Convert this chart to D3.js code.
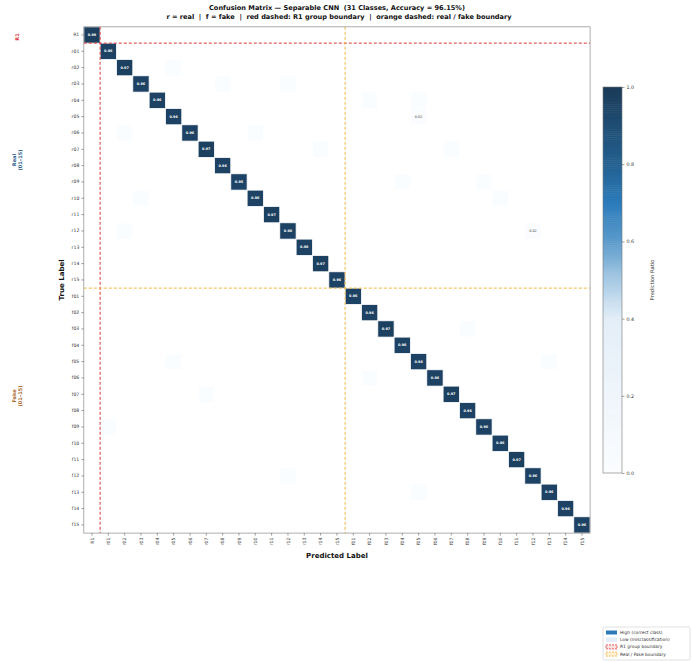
<!DOCTYPE html>
<html>
<head>
<meta charset="utf-8">
<script src="https://cdn.jsdelivr.net/npm/d3@7"></script>
<style>
body{margin:0;background:#fff;}
text{font-family:"DejaVu Sans",sans-serif;white-space:pre;}
</style>
</head>
<body>
<svg id="chart" width="692" height="662"></svg>
<script>
// ---- data ----
const labels = ["R1","r01","r02","r03","r04","r05","r06","r07","r08","r09","r10","r11","r12","r13","r14","r15",
                "f01","f02","f03","f04","f05","f06","f07","f08","f09","f10","f11","f12","f13","f14","f15"];
const diagValues = [0.98,0.96,0.97,0.96,0.96,0.96,0.96,0.97,0.96,0.95,0.96,0.97,0.96,0.96,0.97,0.96,
                    0.96,0.96,0.97,0.96,0.96,0.96,0.97,0.96,0.96,0.96,0.97,0.96,0.96,0.96,0.96];
// off-diagonal entries: [true row, predicted col, ratio]
const offDiag = [
  [5,20,0.02],[12,27,0.02],[4,20,0.01],[7,22,0.01],[9,19,0.01],[9,24,0.01],[10,25,0.01],
  [6,2,0.01],[10,3,0.01],[2,5,0.01],[3,8,0.01],[3,12,0.01],[6,10,0.01],[7,14,0.01],
  [24,1,0.01],[22,7,0.01],[27,12,0.01],[20,5,0.01],[21,17,0.01],[18,23,0.01],[20,28,0.01],
  [28,20,0.01],[4,17,0.01],[12,2,0.01]
];
const cbTicks = [0.0,0.2,0.4,0.6,0.8,1.0];
const legendItems = ["High (correct class)","Low (misclassification)","R1 group boundary","Real / Fake boundary"];

// ---- layout ----
const svg = d3.select("#chart");
const L = 83.8, R = 590.1, T = 26.8, B = 533.1;
const x = d3.scaleBand().domain(labels).range([L,R]);
const y = d3.scaleBand().domain(labels).range([T,B]);

const color = d3.scaleLinear()
  .domain([0,0.2,0.4,0.5,0.6,0.7,0.8,1.0])
  .range(["#fbfdff","#eff5fb","#e3eef8","#a8cae4","#5c9bcb","#2b7bba","#236090","#1b3b58"])
  .clamp(true);

// cells
const cells = [];
labels.forEach((l,i)=>cells.push({r:i,c:i,v:diagValues[i]}));
offDiag.forEach(d=>cells.push({r:d[0],c:d[1],v:d[2]}));

svg.append("rect").attr("x",L).attr("y",T).attr("width",R-L).attr("height",B-T).attr("fill","#fff");

const g = svg.append("g");
g.selectAll("rect.cell").data(cells).enter().append("rect")
  .attr("class","cell")
  .attr("x",d=>x(labels[d.c])).attr("y",d=>y(labels[d.r]))
  .attr("width",x.bandwidth()).attr("height",y.bandwidth())
  .attr("fill",d=>color(d.v))
  .attr("stroke","#fff").attr("stroke-width",0.8);

g.selectAll("text.val").data(cells.filter(d=>d.v>=0.02)).enter().append("text")
  .attr("x",d=>x(labels[d.c])+x.bandwidth()/2)
  .attr("y",d=>y(labels[d.r])+y.bandwidth()/2)
  .attr("dy","0.35em").attr("text-anchor","middle")
  .attr("font-size",3.4).attr("font-weight",d=>d.v>0.5?"bold":"normal")
  .attr("fill",d=>d.v>0.5?"#fff":"#333")
  .text(d=>d.v.toFixed(2));

// boundaries
const rB = x("r01"), fB = x("f01");
svg.append("line").attr("x1",L).attr("x2",R).attr("y1",y("r01")).attr("y2",y("r01"))
  .attr("stroke","#e0373a").attr("stroke-width",1).attr("stroke-dasharray","3,2");
svg.append("line").attr("x1",rB).attr("x2",rB).attr("y1",T).attr("y2",B)
  .attr("stroke","#e0373a").attr("stroke-width",1).attr("stroke-dasharray","3,2");
svg.append("line").attr("x1",L).attr("x2",R).attr("y1",y("f01")).attr("y2",y("f01"))
  .attr("stroke","#f4b63f").attr("stroke-width",1).attr("stroke-dasharray","3,2");
svg.append("line").attr("x1",fB).attr("x2",fB).attr("y1",T).attr("y2",B)
  .attr("stroke","#f4b63f").attr("stroke-width",1).attr("stroke-dasharray","3,2");

// frame
svg.append("rect").attr("x",L).attr("y",T).attr("width",R-L).attr("height",B-T)
  .attr("fill","none").attr("stroke","#999").attr("stroke-width",0.8);

// axes
const ay = svg.append("g").attr("transform",`translate(${L},0)`)
  .call(d3.axisLeft(y).tickSize(2.5).tickPadding(2));
ay.select(".domain").remove();
ay.selectAll("text").attr("font-size",4.6).attr("fill","#333").attr("font-family","DejaVu Sans");
ay.selectAll("line").attr("stroke","#444").attr("stroke-width",0.5);

const ax = svg.append("g").attr("transform",`translate(0,${B})`)
  .call(d3.axisBottom(x).tickSize(2.5).tickPadding(2));
ax.select(".domain").remove();
ax.selectAll("text").attr("font-size",4.6).attr("fill","#333").attr("font-family","DejaVu Sans")
  .attr("transform","rotate(-90)").attr("text-anchor","end").attr("x",-4.5).attr("y",0).attr("dy","0.35em");
ax.selectAll("line").attr("stroke","#444").attr("stroke-width",0.5);

// titles
svg.append("text").attr("x",337).attr("y",10).attr("text-anchor","middle")
  .attr("font-size",6.6).attr("font-weight","bold").attr("fill","#111")
  .text("Confusion Matrix — Separable CNN  (31 Classes, Accuracy = 96.15%)");
svg.append("text").attr("x",339).attr("y",18.5).attr("text-anchor","middle")
  .attr("font-size",6.6).attr("font-weight","bold").attr("fill","#111")
  .text("r = real  |  f = fake  |  red dashed: R1 group boundary  |  orange dashed: real / fake boundary");

svg.append("text").attr("x",337).attr("y",558).attr("text-anchor","middle")
  .attr("font-size",7).attr("font-weight","bold").attr("fill","#111").text("Predicted Label");
svg.append("text").attr("transform",`translate(64,${(T+B)/2}) rotate(-90)`).attr("text-anchor","middle")
  .attr("font-size",7).attr("font-weight","bold").attr("fill","#111").text("True Label");

// group labels
function groupLabel(lines, cx, cy, col){
  const t = svg.append("text").attr("transform",`translate(${cx},${cy}) rotate(-90)`)
    .attr("text-anchor","middle").attr("font-size",5).attr("font-weight","bold").attr("fill",col);
  lines.forEach((s,i)=>t.append("tspan").attr("x",0).attr("dy",i===0?0:5.8).text(s));
}
groupLabel(["R1"],19,37,"#e0373a");
groupLabel(["Real","(01–15)"],16,160,"#2d5f8c");
groupLabel(["Fake","(01–15)"],16,396,"#a8682c");

// colorbar (drawn as thin slices through the colour scale)
const cbX = 603, cbW = 19, cbT = 87, cbB = 473;
const cbScale = d3.scaleLinear().domain([0,1]).range([cbB,cbT]);
const nSlices = 200;
const slices = d3.range(nSlices).map(i=>i/nSlices);
svg.append("g").selectAll("rect").data(slices).enter().append("rect")
  .attr("x",cbX).attr("width",cbW)
  .attr("y",d=>cbScale(d+1/nSlices)).attr("height",(cbB-cbT)/nSlices+0.5)
  .attr("fill",d=>color(d+0.5/nSlices));
svg.append("rect").attr("x",cbX).attr("y",cbT).attr("width",cbW).attr("height",cbB-cbT)
  .attr("fill","none").attr("stroke","#777").attr("stroke-width",0.6);
const cbAxis = svg.append("g").attr("transform",`translate(${cbX+cbW},0)`)
  .call(d3.axisRight(cbScale).tickValues(cbTicks).tickFormat(d3.format(".1f")).tickSize(2.5).tickPadding(2));
cbAxis.select(".domain").remove();
cbAxis.selectAll("text").attr("font-size",4.8).attr("fill","#333").attr("font-family","DejaVu Sans");
cbAxis.selectAll("line").attr("stroke","#444").attr("stroke-width",0.5);
svg.append("text").attr("transform",`translate(652,${(cbT+cbB)/2}) rotate(-90)`)
  .attr("text-anchor","middle").attr("dy","0.35em").attr("font-size",5.2).attr("fill","#333").text("Prediction Ratio");

// legend
const lg = svg.append("g").attr("transform","translate(603,627)");
lg.append("rect").attr("x",0).attr("y",0).attr("width",87).attr("height",33).attr("rx",1.5)
  .attr("fill","#fff").attr("stroke","#ccc").attr("stroke-width",0.6);
legendItems.forEach((s,i)=>{
  const yy = 5.5 + i*7.2;
  const r = lg.append("rect").attr("x",3).attr("y",yy-2).attr("width",11).attr("height",4);
  if(i===0) r.attr("fill","#2b7bba");
  else if(i===1) r.attr("fill","#e3eef8").attr("stroke","#e3eef8").attr("stroke-width",0.4);
  else if(i===2) r.attr("fill","#fbe3e3").attr("stroke","#e0373a").attr("stroke-width",0.8).attr("stroke-dasharray","2,1");
  else r.attr("fill","#fdf0d5").attr("stroke","#f4b63f").attr("stroke-width",0.8).attr("stroke-dasharray","2,1");
  lg.append("text").attr("x",17).attr("y",yy).attr("dy","0.35em").attr("font-size",4.4).attr("fill","#333").text(s);
});
</script>
</body>
</html>
